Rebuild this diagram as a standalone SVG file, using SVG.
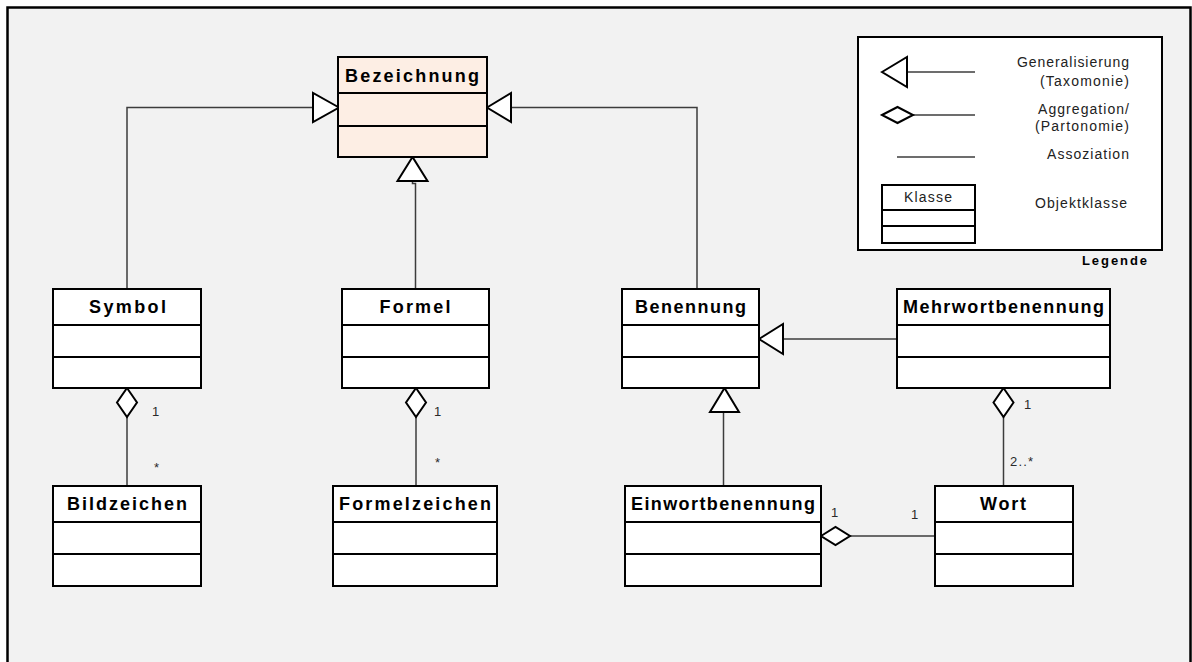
<svg xmlns="http://www.w3.org/2000/svg" width="1192" height="662" viewBox="0 0 1192 662">
  <defs>
    <style>
      .frame { fill: #f2f2f2; stroke: #000; stroke-width: 2.5; }
      .box { fill: #ffffff; stroke: #000; stroke-width: 2; }
      .root { fill: #fdeee4; }
      .div { stroke: #000; stroke-width: 2; }
      .title { font-family: "Liberation Sans", Arial, sans-serif; font-size: 18px; font-weight: bold; fill: #000; text-anchor: middle; }
      .conn { fill: none; stroke: #3c3c3c; stroke-width: 1.5; }
      .head { fill: #ffffff; stroke: #000; stroke-width: 2; stroke-linejoin: miter; }
      .mult { font-family: "Liberation Sans", Arial, sans-serif; font-size: 13px; fill: #2a2a2a; }
      .leg { font-family: "Liberation Sans", Arial, sans-serif; font-size: 14px; fill: #222; text-anchor: end; }
    </style>
  </defs>

  <rect x="0" y="0" width="1192" height="662" fill="#ffffff"/>
  <rect class="frame" x="7.5" y="7.5" width="1183" height="700"/>

  <!-- Legend -->
  <g id="legend">
    <rect x="858" y="37" width="304" height="213" fill="#ffffff" stroke="#000" stroke-width="2"/>
    <line class="conn" x1="907" y1="72" x2="975" y2="72"/>
    <polygon class="head" points="882,72 907,57 907,87"/>
    <text class="leg" x="1129" y="67" textLength="112">Generalisierung</text>
    <text class="leg" x="1129" y="86" textLength="89">(Taxomonie)</text>
    <line class="conn" x1="913" y1="115" x2="975" y2="115"/>
    <polygon class="head" points="882,115 897.5,107 913,115 897.5,123"/>
    <text class="leg" x="1129" y="114" textLength="91">Aggregation/</text>
    <text class="leg" x="1129" y="131" textLength="94">(Partonomie)</text>
    <line class="conn" x1="897" y1="157" x2="975" y2="157"/>
    <text class="leg" x="1129" y="159" textLength="82">Assoziation</text>
    <rect class="box" x="882" y="185" width="93" height="58"/>
    <line class="div" x1="882" y1="210" x2="975" y2="210"/>
    <line class="div" x1="882" y1="226" x2="975" y2="226"/>
    <text class="leg" x="928" y="202" style="text-anchor:middle" textLength="48">Klasse</text>
    <text class="leg" x="1127" y="208" textLength="92">Objektklasse</text>
    <text x="1147" y="265" font-family="Liberation Sans, Arial, sans-serif" font-size="13" font-weight="bold" text-anchor="end" textLength="65">Legende</text>
  </g>

  <!-- Connectors -->
  <g id="connectors">
    <!-- Generalisations -->
    <path class="conn" d="M127 289 V107.5 H313"/>
    <polygon class="head" points="339,107.5 313,93 313,122"/>
    <path class="conn" d="M697 289 V107.5 H511"/>
    <polygon class="head" points="487,107.5 511,93 511,122"/>
    <path class="conn" d="M415.5 289 V183.5 H412.5 V181"/>
    <polygon class="head" points="412.5,157 397.5,181 427.5,181"/>
    <path class="conn" d="M897 339 H783"/>
    <polygon class="head" points="759,339 783,324 783,354"/>
    <path class="conn" d="M723.5 486 V412"/>
    <polygon class="head" points="724.5,388 710,412 739,412"/>
    <!-- Aggregations -->
    <line class="conn" x1="127" y1="417" x2="127" y2="486"/>
    <polygon class="head" points="127,388 137,402.5 127,417 117,402.5"/>
    <line class="conn" x1="416" y1="417" x2="416" y2="486"/>
    <polygon class="head" points="416,388 426,402.5 416,417 406,402.5"/>
    <line class="conn" x1="1003.5" y1="417" x2="1003.5" y2="486"/>
    <polygon class="head" points="1003.5,388 1013.5,402.5 1003.5,417 993.5,402.5"/>
    <line class="conn" x1="850" y1="536" x2="935" y2="536"/>
    <polygon class="head" points="821,536 835.5,527 850,536 835.5,545"/>
    <!-- Multiplicities -->
    <text class="mult" x="152" y="416">1</text>
    <text class="mult" x="154" y="472">*</text>
    <text class="mult" x="434" y="416">1</text>
    <text class="mult" x="435" y="467">*</text>
    <text class="mult" x="1024" y="409">1</text>
    <text class="mult" x="1010" y="466" textLength="23">2..*</text>
    <text class="mult" x="831" y="517">1</text>
    <text class="mult" x="911" y="519">1</text>
  </g>

  <!-- Classes -->
  <g id="bezeichnung">
    <rect class="box root" x="338" y="57" width="149" height="100"/>
    <line class="div" x1="338" y1="93" x2="487" y2="93"/>
    <line class="div" x1="338" y1="126" x2="487" y2="126"/>
    <text class="title" x="412" y="82" textLength="134">Bezeichnung</text>
  </g>
  <g id="symbol">
    <rect class="box" x="53" y="289" width="148" height="99"/>
    <line class="div" x1="53" y1="325" x2="201" y2="325"/>
    <line class="div" x1="53" y1="357" x2="201" y2="357"/>
    <text class="title" x="127.5" y="313" textLength="77">Symbol</text>
  </g>
  <g id="formel">
    <rect class="box" x="342" y="289" width="147" height="99"/>
    <line class="div" x1="342" y1="325" x2="489" y2="325"/>
    <line class="div" x1="342" y1="357" x2="489" y2="357"/>
    <text class="title" x="415" y="313" textLength="71">Formel</text>
  </g>
  <g id="benennung">
    <rect class="box" x="622" y="289" width="137" height="99"/>
    <line class="div" x1="622" y1="325" x2="759" y2="325"/>
    <line class="div" x1="622" y1="357" x2="759" y2="357"/>
    <text class="title" x="690.5" y="313" textLength="111">Benennung</text>
  </g>
  <g id="mehrwortbenennung">
    <rect class="box" x="897" y="289" width="213" height="99"/>
    <line class="div" x1="897" y1="325" x2="1110" y2="325"/>
    <line class="div" x1="897" y1="357" x2="1110" y2="357"/>
    <text class="title" x="1003.5" y="313" textLength="201">Mehrwortbenennung</text>
  </g>
  <g id="bildzeichen">
    <rect class="box" x="53" y="486" width="148" height="100"/>
    <line class="div" x1="53" y1="522" x2="201" y2="522"/>
    <line class="div" x1="53" y1="554" x2="201" y2="554"/>
    <text class="title" x="127" y="510" textLength="120">Bildzeichen</text>
  </g>
  <g id="formelzeichen">
    <rect class="box" x="333" y="486" width="164" height="100"/>
    <line class="div" x1="333" y1="522" x2="497" y2="522"/>
    <line class="div" x1="333" y1="554" x2="497" y2="554"/>
    <text class="title" x="415" y="510" textLength="152">Formelzeichen</text>
  </g>
  <g id="einwortbenennung">
    <rect class="box" x="625" y="486" width="196" height="100"/>
    <line class="div" x1="625" y1="522" x2="821" y2="522"/>
    <line class="div" x1="625" y1="554" x2="821" y2="554"/>
    <text class="title" x="723" y="510" textLength="184">Einwortbenennung</text>
  </g>
  <g id="wort">
    <rect class="box" x="935" y="486" width="138" height="100"/>
    <line class="div" x1="935" y1="522" x2="1073" y2="522"/>
    <line class="div" x1="935" y1="554" x2="1073" y2="554"/>
    <text class="title" x="1003" y="510" textLength="46">Wort</text>
  </g>
</svg>
